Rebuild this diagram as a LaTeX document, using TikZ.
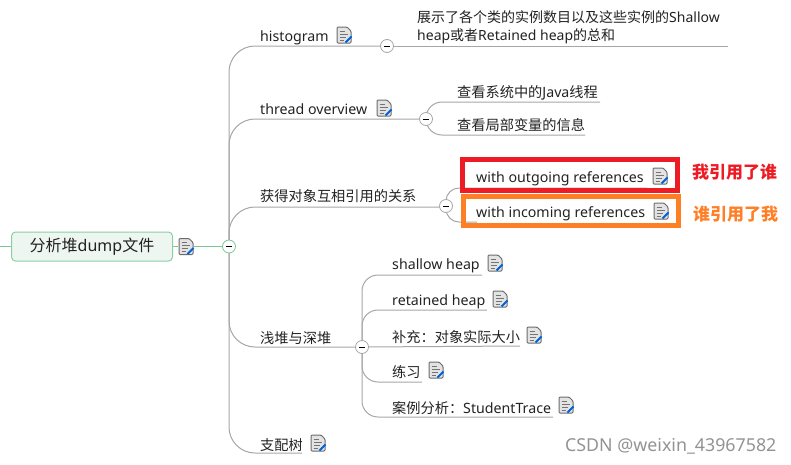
\documentclass[tikz,border=0pt]{standalone}
\usepackage{fontspec}
\setmainfont{Noto Sans}
\newfontfamily\cjk{Noto Sans CJK SC}
\usetikzlibrary{backgrounds}
\definecolor{linegray}{HTML}{A6A6A6}
\definecolor{rootgreen}{HTML}{8BD0A5}
\definecolor{rootfill}{HTML}{EEF6F1}
\definecolor{linkgreen}{HTML}{7CC695}
\definecolor{boxred}{HTML}{ED1C24}
\definecolor{boxorange}{HTML}{FF7F27}
\definecolor{txt}{HTML}{222222}
\tikzset{
  x=1pt,y=-1pt,
  mmlabel/.style={anchor=west,inner sep=0pt,font=\fontsize{14.2}{17}\selectfont,text=txt},
  hubnode/.style={circle,draw=#1,fill=white,line width=0.8pt,minimum size=13pt,inner sep=0pt,
    path picture={\draw[black,line width=1pt] ([xshift=-3pt]path picture bounding box.center) -- ([xshift=3pt]path picture bounding box.center);}},
  hubnode/.default=linegray,
  mmlink/.style={draw=linegray,line width=1pt},
  bendbig/.style={mmlink,rounded corners=26pt},
  bendmid/.style={mmlink,rounded corners=16pt},
  bendsmall/.style={mmlink,rounded corners=13pt},
  greenlink/.style={draw=linkgreen,line width=1pt},
  outlinebox/.style={draw=#1,line width=5pt,outer sep=0pt,inner sep=0pt,anchor=north west},
  callout/.style={anchor=west,inner sep=0pt,font=\fontsize{17}{20}\bfseries\cjk\selectfont},
  pics/noteicon/.style={code={
    \draw[gray!85!black,fill=gray!22,line width=1pt,rounded corners=1pt]
      (-7,-8) -- (3,-8) -- (7,-4) -- (7,8) -- (-7,8) -- cycle;
    \draw[gray!90!black,line width=1pt] (-4.5,-4) -- (1,-4) (-4.5,-1) -- (4,-1) (-4.5,2) -- (2,2) (-4.5,5) -- (0,5);
    \draw[blue!55!cyan!85!black,line width=2pt] (1.5,7.5) -- (7.5,1.5);
  }}
}
\begin{document}
\begin{tikzpicture}
\useasboundingbox (0,0) rectangle (791,464);
% root
\node[draw=rootgreen,fill=rootfill,line width=1pt,rounded corners=4pt,minimum width=161pt,minimum height=29pt,inner sep=0pt,anchor=west,font=\fontsize{16}{19}\selectfont,text=txt] (root) at (11,246.5) {{\cjk 分析堆}dump{\cjk 文件}};
\pic at (186,246.5) {noteicon};
\coordinate (rootin) at (0,246.5);
\coordinate (rooticon) at (178,246.5);
\coordinate (rooticonr) at (194,246.5);
\node[hubnode=linkgreen] (h0) at (229,246.5) {};
% hubs
\node[hubnode] (h1) at (387,46) {};
\node[hubnode] (h2) at (426,119) {};
\node[hubnode] (h3) at (446,206) {};
\node[hubnode] (h4) at (362,347) {};
% level 1 labels
\node[mmlabel] (histogram) at (260,38) {histogram};
\pic at (344,35) {noteicon};
\node[mmlabel] (thread) at (260,109) {thread overview};
\pic at (384,108) {noteicon};
\node[mmlabel] (refs) at (260,196) {\cjk 获得对象互相引用的关系};
\node[mmlabel] (heaps) at (260,338) {\cjk 浅堆与深堆};
\node[mmlabel] (dom) at (260,445) {\cjk 支配树};
\pic at (318,443) {noteicon};
% level 2 labels
\node[mmlabel,align=left,anchor=north west,font=\fontsize{14}{18.5}\selectfont] (desc) at (417,10) {{\cjk 展示了各个类的实例数目以及这些实例的}Shallow\\heap{\cjk 或者}Retained heap{\cjk 的总和}};
\node[mmlabel] (sys) at (457,93) {{\cjk 查看系统中的}Java{\cjk 线程}};
\node[mmlabel] (loc) at (457,125) {\cjk 查看局部变量的信息};
\node[mmlabel] (out) at (476,179) {with outgoing references};
\pic at (660,176) {noteicon};
\node[mmlabel] (inc) at (476,214) {with incoming references};
\pic at (661,211) {noteicon};
\node[mmlabel] (sh) at (392,266) {shallow heap};
\pic at (495,263) {noteicon};
\node[mmlabel] (ret) at (392,302) {retained heap};
\pic at (500,299) {noteicon};
\node[mmlabel] (add) at (392,337) {{\cjk 补充：对象实际大小}};
\pic at (534,335) {noteicon};
\node[mmlabel] (ex) at (392,372) {\cjk 练习};
\pic at (436,370) {noteicon};
\node[mmlabel] (case) at (392,408) {{\cjk 案例分析：}StudentTrace};
\pic at (566,405) {noteicon};
% underline ends
\coordinate (e1) at (380,46);
\coordinate (e2) at (420,119);
\coordinate (e3) at (440,207);
\coordinate (e4) at (355,347);
\coordinate (e5) at (302,453);
\coordinate (d1) at (728,46);
\coordinate (s1) at (600,102);
\coordinate (s2) at (585,135);
\coordinate (o1) at (647,188);
\coordinate (i1) at (477,222);
\coordinate (c1) at (482,275);
\coordinate (c2) at (487,310);
\coordinate (c3) at (520,346);
\coordinate (c4) at (422,382);
\coordinate (c5) at (553,417);
\begin{scope}[on background layer]
  \draw[greenlink] (rootin) -- (root.west);
  \draw[greenlink] (root.east) -- (rooticon);
  \draw[greenlink] (rooticonr) -- (h0);
  \draw[bendbig] (h0.center) |- (e1);
  \draw[bendbig] (h0.center) |- (e2);
  \draw[bendbig] (h0.center) |- (e3);
  \draw[bendbig] (h0.center) |- (e4);
  \draw[bendbig] (h0.center) |- (e5);
  \draw[mmlink] (h1) -- (d1);
  \draw[bendmid] (h2.center) |- (s1);
  \draw[bendmid] (h2.center) |- (s2);
  \draw[bendsmall] (h3.center) |- (o1);
  \draw[bendsmall] (h3.center) |- (i1);
  \draw[bendmid] (h4.center) |- (c1);
  \draw[bendmid] (h4.center) |- (c2);
  \draw[mmlink] (h4) -- (c3);
  \draw[bendmid] (h4.center) |- (c4);
  \draw[bendmid] (h4.center) |- (c5);
\end{scope}
% call-outs
\node[outlinebox=boxred,minimum width=215pt,minimum height=31pt] (redbox) at (462.5,159.5) {};
\node[outlinebox=boxorange,minimum width=215pt,minimum height=29pt] (orangebox) at (463.5,196.5) {};
\node[callout,text=boxred] (me) at (692,172.5) {我引用了谁};
\node[callout,text=boxorange] (who) at (693,214) {谁引用了我};
\node[anchor=west,inner sep=0pt,font=\fontsize{17.8}{21}\selectfont,text=gray!85] (mark) at (565,446) {CSDN @weixin\_43967582};
\end{tikzpicture}
\end{document}
